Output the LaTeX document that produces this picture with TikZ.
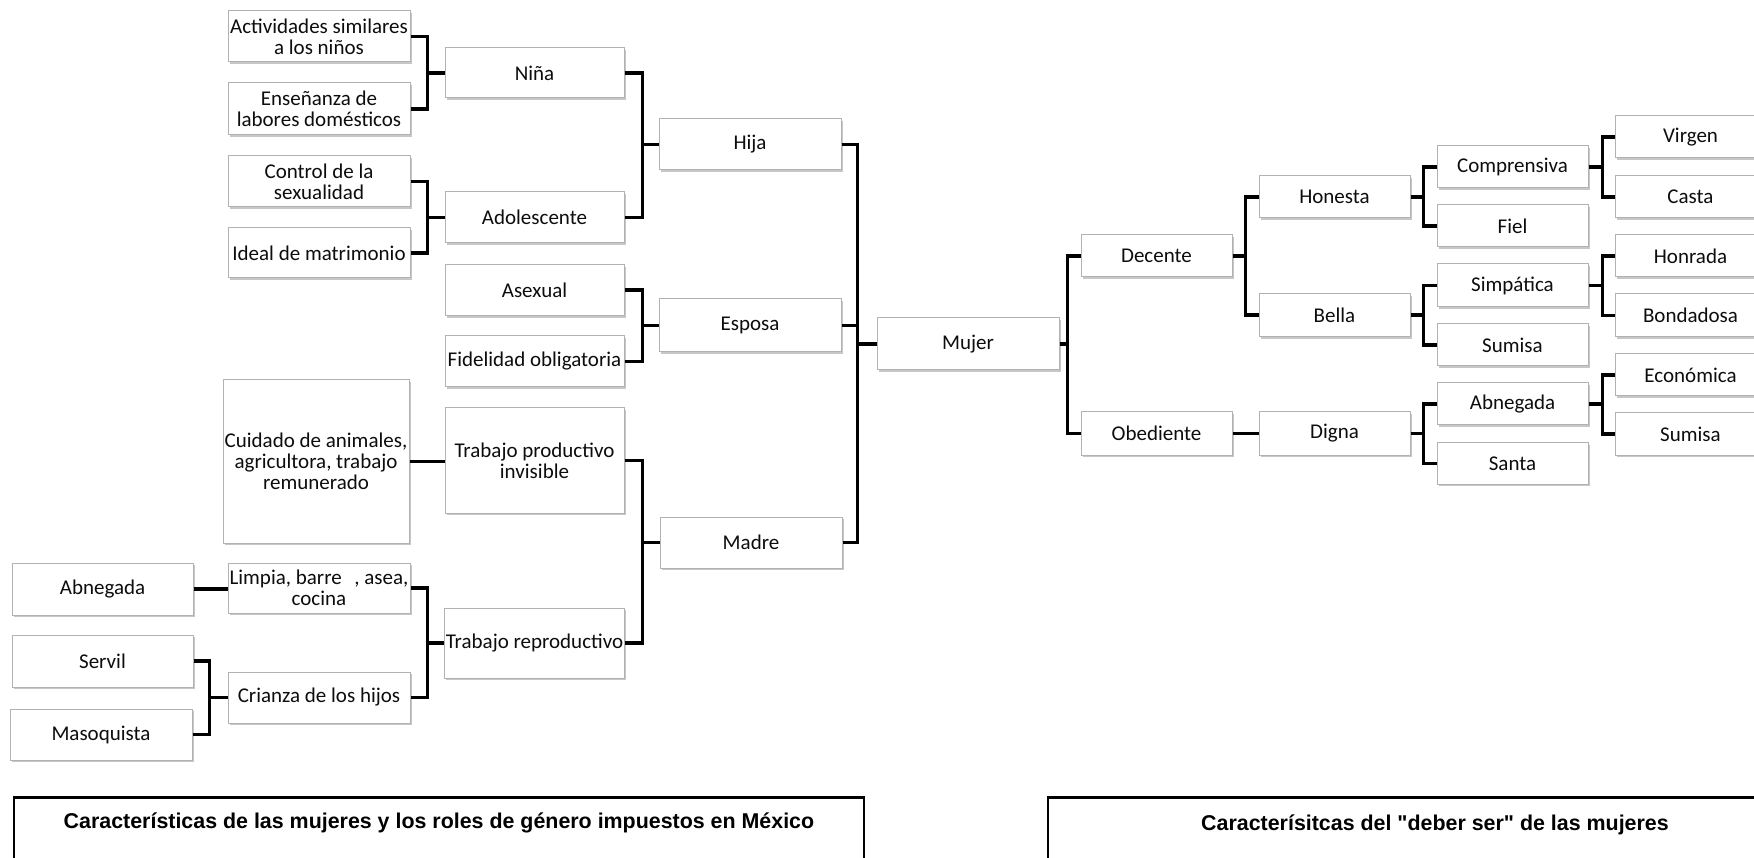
\documentclass[tikz,border=0pt]{standalone}
\usepackage{fontspec}
\setmainfont{Carlito}
\newfontfamily\capfont{Liberation Sans}
\usetikzlibrary{shadows}
\tikzset{
  box/.style={draw=black!30, line width=1pt, fill=white, align=center, inner sep=1pt,
    text=black!95, font=\fontsize{21}{21}\selectfont,
    drop shadow={shadow xshift=1.5pt, shadow yshift=-2.2pt, opacity=0.4, fill=black!55}},
  conn/.style={line width=3.5pt, black},
  captiontext/.style={font=\capfont\bfseries\fontsize{21.4}{24}\selectfont, inner sep=0pt, text=black},
  capframe/.style={black, line width=1.2pt},
  captop/.style={black, line width=2.2pt},
}
\newcommand\mkbox[6]{\node[box, minimum width=#4pt, minimum height=#5pt] (#1) at (#2,#3) {#6};}
\begin{document}
\begin{tikzpicture}[x=1pt,y=-1pt]
\fill[white] (0,0) rectangle (1754,858);
\useasboundingbox (0,0) rectangle (1754,858);

% ---------- left tree ----------
\mkbox{act}{319}{36.5}{182}{51}{Actividades similares\\a los niños}
\mkbox{ens}{319}{109}{182}{52}{Enseñanza de\\labores domésticos}
\mkbox{ctrl}{319}{181.5}{182}{51}{Control de la\\sexualidad}
\mkbox{ideal}{319}{253}{182}{50}{Ideal de matrimonio}
\mkbox{cuid}{316}{461.5}{186}{163}{Cuidado de animales,\\agricultora, trabajo\\remunerado}
\mkbox{limp}{319}{588}{182}{50}{Limpia, barre\hspace{0.6em}, asea,\\cocina}
\mkbox{crianza}{319}{697.5}{182}{51}{Crianza de los hijos}
\mkbox{abn}{102.5}{589}{181}{52}{Abnegada}
\mkbox{servil}{102.5}{661}{181}{52}{Servil}
\mkbox{maso}{101}{734.5}{182}{51}{Masoquista}
\mkbox{nina}{534.5}{73}{179}{50}{Niña}
\mkbox{adol}{534.5}{217.5}{179}{51}{Adolescente}
\mkbox{asex}{534.5}{290}{179}{51}{Asexual}
\mkbox{fid}{534.5}{361.5}{179}{51}{Fidelidad obligatoria}
\mkbox{tpi}{534.5}{460.5}{179}{105}{Trabajo productivo\\invisible}
\mkbox{tr}{534.5}{643}{179}{70}{Trabajo reproductivo}
\mkbox{hija}{750}{144.5}{182}{51}{Hija}
\mkbox{esposa}{750}{325.5}{182}{53}{Esposa}
\mkbox{madre}{751}{542.5}{182}{51}{Madre}
\mkbox{mujer}{968}{344}{182}{52}{Mujer}

% ---------- right tree ----------
\mkbox{decente}{1156.5}{256}{151}{42}{Decente}
\mkbox{obed}{1156.5}{433.5}{151}{43}{Obediente}
\mkbox{honesta}{1334.5}{197}{151}{42}{Honesta}
\mkbox{bella}{1334.5}{315}{151}{43}{Bella}
\mkbox{digna}{1334.5}{433.5}{151}{43}{Digna}
\mkbox{compr}{1512.5}{167}{151}{42}{Comprensiva}
\mkbox{fiel}{1512.5}{226}{151}{42}{Fiel}
\mkbox{simp}{1512.5}{285.5}{151}{43}{Simpática}
\mkbox{sumisa}{1512.5}{345}{151}{42}{Sumisa}
\mkbox{abnr}{1512.5}{404}{151}{42}{Abnegada}
\mkbox{santa}{1512.5}{463.5}{151}{41}{Santa}
\mkbox{virgen}{1690.5}{137}{151}{42}{Virgen}
\mkbox{casta}{1690.5}{197}{151}{42}{Casta}
\mkbox{honrada}{1690.5}{256}{151}{42}{Honrada}
\mkbox{bond}{1690.5}{315.5}{151}{43}{Bondadosa}
\mkbox{econ}{1690.5}{375}{151}{42}{Económica}
\mkbox{sumisab}{1690.5}{434}{151}{42}{Sumisa}

% ---------- connectors, left ----------
\draw[conn] (act.east) -| ([xshift=-17pt]nina.west) -- (nina.west);
\draw[conn] (ens.east) -| ([xshift=-17pt]nina.west);
\draw[conn] (ctrl.east) -| ([xshift=-17pt]adol.west) -- (adol.west);
\draw[conn] (ideal.east) -| ([xshift=-17pt]adol.west);
\draw[conn] (nina.east) -| ([xshift=-16pt]hija.west) -- (hija.west);
\draw[conn] (adol.east) -| ([xshift=-16pt]hija.west);
\draw[conn] (asex.east) -| ([xshift=-16pt]esposa.west) -- (esposa.west);
\draw[conn] (fid.east) -| ([xshift=-16pt]esposa.west);
\draw[conn] (cuid.east) -- (cuid.east -| tpi.west);
\draw[conn] (tpi.east) -| ([xshift=-17pt]madre.west) -- (madre.west);
\draw[conn] (tr.east) -| ([xshift=-17pt]madre.west);
\draw[conn] (limp.east) -| ([xshift=-17pt]tr.west) -- (tr.west);
\draw[conn] (crianza.east) -| ([xshift=-17pt]tr.west);
\draw[conn] (abn.east) -- (abn.east -| limp.west);
\draw[conn] (servil.east) -| ([xshift=-18pt]crianza.west) -- (crianza.west);
\draw[conn] (maso.east) -| ([xshift=-18pt]crianza.west);
\draw[conn] (hija.east) -| ([xshift=-19pt]mujer.west) -- (mujer.west);
\draw[conn] (esposa.east) -| ([xshift=-19pt]mujer.west);
\draw[conn] (madre.east) -| ([xshift=-19pt]mujer.west);

% ---------- connectors, right ----------
\draw[conn] (mujer.east) -- ++(8,0) |- (decente.west);
\draw[conn] (mujer.east) -- ++(8,0) |- (obed.west);
\draw[conn] (decente.east) -- ++(13,0) |- (honesta.west);
\draw[conn] (decente.east) -- ++(13,0) |- (bella.west);
\draw[conn] (obed.east) -- (obed.east -| digna.west);
\draw[conn] (honesta.east) -- ++(13,0) |- (compr.west);
\draw[conn] (honesta.east) -- ++(13,0) |- (fiel.west);
\draw[conn] (bella.east) -- ++(13,0) |- (simp.west);
\draw[conn] (bella.east) -- ++(13,0) |- (sumisa.west);
\draw[conn] (digna.east) -- ++(13,0) |- (abnr.west);
\draw[conn] (digna.east) -- ++(13,0) |- (santa.west);
\draw[conn] (compr.east) -- ++(14,0) |- (virgen.west);
\draw[conn] (compr.east) -- ++(14,0) |- (casta.west);
\draw[conn] (simp.east) -- ++(14,0) |- (honrada.west);
\draw[conn] (simp.east) -- ++(14,0) |- (bond.west);
\draw[conn] (abnr.east) -- ++(14,0) |- (econ.west);
\draw[conn] (abnr.east) -- ++(14,0) |- (sumisab.west);

% ---------- captions ----------
\draw[capframe] (14,870) -- (14,797.5);
\draw[capframe] (864,870) -- (864,797.5);
\draw[captop] (13.4,797.5) -- (864.6,797.5);
\node[captiontext] (capl) at (439,823) {Características de las mujeres y los roles de género impuestos en México};
\draw[capframe] (1048,870) -- (1048,797.5);
\draw[captop] (1047.4,797.5) -- (1780,797.5);
\node[captiontext] (capr) at (1435,825) {Caracterísitcas del "deber ser" de las mujeres};
\end{tikzpicture}
\end{document}
